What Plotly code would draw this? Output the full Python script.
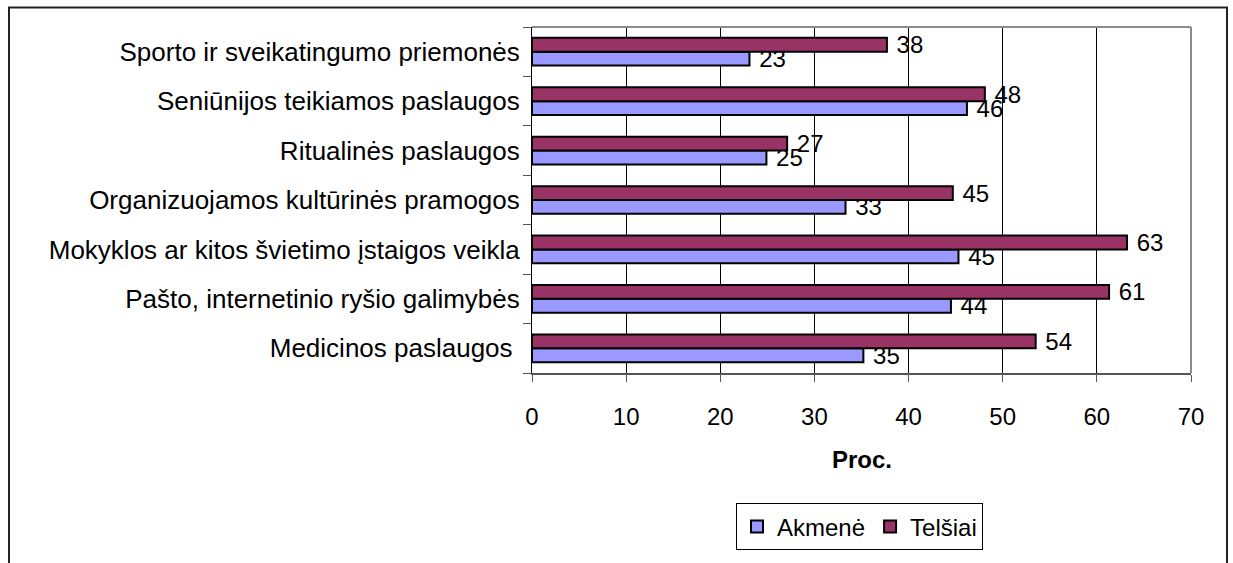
import plotly.graph_objects as go

categories = [
    "Medicinos paslaugos ",
    "Pašto, internetinio ryšio galimybės",
    "Mokyklos ar kitos švietimo įstaigos veikla",
    "Organizuojamos kultūrinės pramogos",
    "Ritualinės paslaugos",
    "Seniūnijos teikiamos paslaugos",
    "Sporto ir sveikatingumo priemonės",
]
akmene = [35.2, 44.5, 45.3, 33.3, 24.9, 46.2, 23.1]
telsiai = [53.5, 61.3, 63.2, 44.7, 27.1, 48.1, 37.7]
akmene_labels = ["35", "44", "45", "33", "25", "46", "23"]
telsiai_labels = ["54", "61", "63", "45", "27", "48", "38"]
x_ticks = [0, 10, 20, 30, 40, 50, 60, 70]

FONT = "Liberation Sans, Arial, sans-serif"
FS = 24
FS_CAT = 26

W, H = 1233, 563
L, R, T, B = 532, 1191, 27, 380

fig = go.Figure()
fig.add_trace(go.Bar(
    y=categories, x=akmene, orientation="h", name="Akmenė",
    marker=dict(color="#9999FF", line=dict(color="black", width=2)),
    text=[" " + t for t in akmene_labels], textposition="outside",
    constraintext="none",
    textfont=dict(family=FONT, size=FS, color="black"), cliponaxis=False,
))
fig.add_trace(go.Bar(
    y=categories, x=telsiai, orientation="h", name="Telšiai",
    marker=dict(color="#993366", line=dict(color="black", width=2)),
    text=[" " + t for t in telsiai_labels], textposition="outside",
    constraintext="none",
    textfont=dict(family=FONT, size=FS, color="black"), cliponaxis=False,
))

pw, ph = R - L, B - T

def px(x):
    return (x - L) / pw

def py(y):
    return (B - y) / ph

shapes = [
    # outer chart border
    dict(type="rect", xref="paper", yref="paper", x0=px(9), x1=px(1227), y0=py(600), y1=py(7),
         line=dict(color="#222222", width=2), layer="below"),
    # plot area top/right gray
    dict(type="line", xref="paper", yref="paper", x0=0, x1=1, y0=1, y1=1, line=dict(color="#8c8c8c", width=2)),
    dict(type="line", xref="paper", yref="paper", x0=1, x1=1, y0=0, y1=1, line=dict(color="#8c8c8c", width=2)),
]

fig.update_layout(
    width=W, height=H,
    margin=dict(l=L, r=W - R, t=T, b=H - B, pad=0),
    paper_bgcolor="white", plot_bgcolor="white",
    barmode="group", bargap=0.44, bargroupgap=0,
    font=dict(family=FONT, size=FS, color="black"),
    showlegend=True,
    legend=dict(orientation="h", x=0.497, xanchor="center", y=py(513), yanchor="top",
                bordercolor="black", borderwidth=1, bgcolor="white",
                font=dict(family=FONT, size=FS, color="black"),
                itemwidth=30, traceorder="normal"),
    xaxis=dict(range=[0, 70], tickvals=x_ticks, ticktext=[str(v) for v in x_ticks],
               showgrid=True, gridcolor="black", gridwidth=1,
               showline=True, linecolor="#555555", linewidth=2,
               ticks="outside", ticklen=7, tickcolor="#555555", tickwidth=1,
               ticklabelstandoff=14, zeroline=False, fixedrange=True,
               tickfont=dict(family=FONT, size=FS)),
    yaxis=dict(showline=True, linecolor="black", linewidth=1,
               ticks="outside", ticklen=8, tickcolor="#555555", tickwidth=1,
               tickson="boundaries", ticklabelstandoff=6, showgrid=False,
               tickfont=dict(family=FONT, size=FS_CAT), fixedrange=True),
    shapes=shapes,
    annotations=[dict(text="<b>Proc.</b>", xref="paper", yref="paper", x=0.5, y=py(468),
                      xanchor="center", yanchor="middle", showarrow=False,
                      font=dict(family=FONT, size=FS, color="black"))],
)

fig.write_html("out.html", config={"displayModeBar": False},
               post_script="document.body.style.margin='0';document.body.style.overflow='hidden';")
